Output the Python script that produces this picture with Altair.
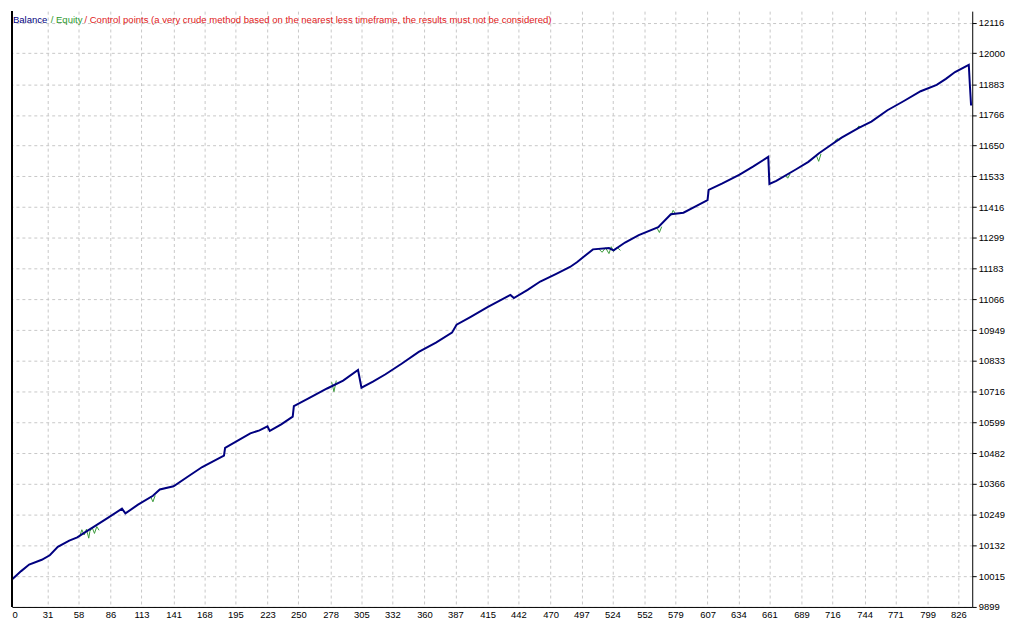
import altair as alt
import pandas as pd

# ---- Balance curve (trade number, balance) ----
bal_trade = [0, 8, 15, 26, 33, 40, 50, 57, 64, 72, 84, 96, 99, 110, 123, 129,
             141, 153, 166, 185, 186, 197, 208, 216, 223, 225, 235, 245, 246,
             260, 275, 289, 302, 305, 315, 326, 340, 355, 370, 384, 388, 400,
             415, 435, 438, 450, 461, 475, 487, 493, 507, 521, 525, 535, 547,
             564, 575, 586, 597, 607, 608, 620, 635, 647, 660, 661, 667, 684,
             695, 704, 714, 724, 739, 750, 764, 778, 793, 807, 815, 823, 835,
             836, 837]
bal_value = [10003, 10035, 10060, 10078, 10095, 10127, 10151, 10163, 10183,
             10205, 10238, 10272, 10254, 10287, 10321, 10345, 10357, 10392,
             10430, 10473, 10503, 10530, 10558, 10569, 10584, 10567, 10592,
             10621, 10661, 10693, 10728, 10758, 10798, 10731, 10754, 10782,
             10822, 10867, 10902, 10940, 10970, 10999, 11037, 11083, 11071,
             11102, 11134, 11163, 11189, 11207, 11256, 11261, 11252, 11282,
             11310, 11340, 11389, 11395, 11420, 11443, 11482, 11506, 11540,
             11571, 11607, 11504, 11516, 11559, 11588, 11620, 11650, 11680,
             11717, 11741, 11784, 11818, 11856, 11880, 11903, 11929, 11956,
             11875, 11802]

# ---- Equity excursions (segment id, trade number, equity) ----
eq_seg = [1, 1, 1, 1, 1, 1, 1, 1, 1, 1,
          2, 2, 2,
          3, 3, 3,
          4, 4, 4, 4, 4, 4, 4, 4,
          5, 5, 5,
          6, 6, 6,
          7, 7, 7,
          8, 8, 8,
          9, 9, 9,
          10, 10, 10]
eq_trade = [59, 61, 63, 65, 67, 68, 70, 72, 74, 76,
            121, 123, 125,
            279, 281, 283,
            512, 515, 518, 521, 523, 525, 528, 531,
            563, 565, 567,
            575, 577, 579,
            702, 704, 706,
            675, 677, 679,
            737, 739, 741,
            718, 720, 722]
eq_value = [10166, 10192, 10172, 10194, 10160, 10186, 10200, 10178, 10204, 10190,
            10318, 10298, 10322,
            10752, 10716, 10758,
            11258, 11245, 11262, 11240, 11266, 11248, 11264, 11252,
            11336, 11320, 11342,
            11384, 11404, 11392,
            11612, 11590, 11618,
            11536, 11526, 11542,
            11711, 11724, 11719,
            11666, 11676, 11670]

x_ticks = [0, 31, 58, 86, 113, 141, 168, 195, 223, 250, 278, 305, 332, 360, 387,
           415, 442, 470, 497, 524, 552, 579, 607, 634, 661, 689, 716, 744, 771,
           799, 826]
y_ticks = [9899, 10015, 10132, 10249, 10366, 10482, 10599, 10716, 10833, 10949,
           11066, 11183, 11299, 11416, 11533, 11650, 11766, 11883, 12000, 12116]

legend_parts = ["Balance", "/ Equity",
                "/ Control points (a very crude method based on the nearest less timeframe, the results must not be considered)"]
legend_colors = ["#000080", "#2e9a2e", "#e02020"]

bal_df = pd.DataFrame({"trade": bal_trade, "value": bal_value})
eq_df = pd.DataFrame({"seg": eq_seg, "trade": eq_trade, "value": eq_value})

W, H = 967, 600
FONT = "Liberation Sans"

xs = alt.Scale(domain=[0, 838], nice=False, zero=False)
ys = alt.Scale(domain=[9899, 12160], nice=False, zero=False)

x_axis = alt.Axis(values=x_ticks, grid=True, gridDash=[3, 3], gridColor="#c8c8c8",
                  gridWidth=1, ticks=False, labelPadding=3, domainColor="#000000",
                  domainWidth=1, labelOverlap=False, title=None, labelFont=FONT,
                  labelFontSize=9.5, labelColor="#000000", format="d")
y_axis = alt.Axis(values=y_ticks, orient="right", grid=True, gridDash=[3, 3],
                  gridColor="#c8c8c8", gridWidth=1, tickColor="#000000", tickSize=4,
                  labelPadding=2, domainColor="#000000", domainWidth=1,
                  labelOverlap=False, labelFlush=False, title=None, labelFont=FONT,
                  labelFontSize=9.5, labelColor="#000000", format="d")

equity = alt.Chart(eq_df).mark_line(color="#3a9a3a", strokeWidth=1).encode(
    x=alt.X("trade:Q", scale=xs, axis=x_axis),
    y=alt.Y("value:Q", scale=ys, axis=y_axis),
    detail="seg:N",
)

balance = alt.Chart(bal_df).mark_line(color="#000080", strokeWidth=2).encode(
    x=alt.X("trade:Q", scale=xs, axis=x_axis),
    y=alt.Y("value:Q", scale=ys, axis=y_axis),
)

left_border = alt.Chart(bal_df).mark_rule(color="#000000", strokeWidth=1).encode(
    x=alt.value(0), y=alt.value(0), y2=alt.value(H)
)

title_df = pd.DataFrame({"t": legend_parts, "c": legend_colors})
t1 = alt.Chart(title_df.iloc[[0]]).mark_text(
    align="left", baseline="top", font=FONT, fontSize=9.6, color=legend_colors[0]
).encode(x=alt.value(1), y=alt.value(4), text="t:N")
t2 = alt.Chart(title_df.iloc[[1]]).mark_text(
    align="left", baseline="top", font=FONT, fontSize=9.6, color=legend_colors[1]
).encode(x=alt.value(39), y=alt.value(4), text="t:N")
t3 = alt.Chart(title_df.iloc[[2]]).mark_text(
    align="left", baseline="top", font=FONT, fontSize=9.6, color=legend_colors[2]
).encode(x=alt.value(73), y=alt.value(4), text="t:N")

chart = alt.layer(equity, balance, left_border, t1, t2, t3).properties(
    width=W, height=H, padding={"left": 0, "top": 0, "right": 0, "bottom": 0},
    background="#ffffff",
).configure_view(stroke=None).configure_axis(labelOverlap=False)

chart.save("out.html", embed_options={"renderer": "svg", "actions": False})
